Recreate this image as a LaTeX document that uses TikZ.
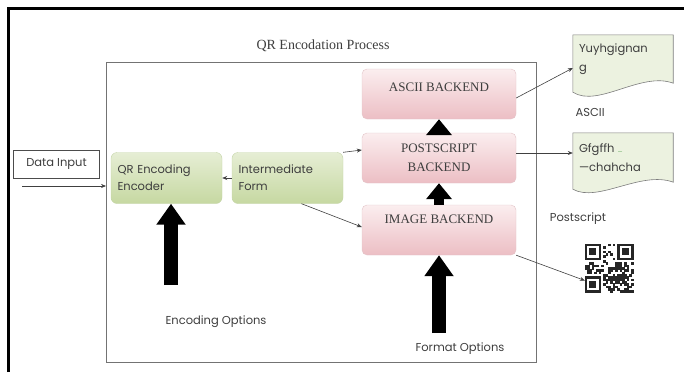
\documentclass[tikz,border=0pt]{standalone}
\usepackage{fontspec}
\setmainfont{Liberation Serif}
\newfontfamily\gothic{Poppins}
\usepackage{xcolor}
\usetikzlibrary{calc,arrows.meta,positioning,backgrounds}
\definecolor{backPink}{RGB}{236,190,196}
\definecolor{backPinkLight}{RGB}{251,238,239}
\definecolor{backEdge}{RGB}{226,196,200}
\definecolor{formGreen}{RGB}{198,216,162}
\definecolor{formGreenLight}{RGB}{230,238,212}
\definecolor{formEdge}{RGB}{196,212,168}
\definecolor{docFill}{RGB}{236,242,224}
\definecolor{docEdge}{RGB}{125,125,125}
\definecolor{frameGray}{RGB}{115,115,115}
\definecolor{txtGray}{RGB}{62,62,62}

\begin{document}
\begin{tikzpicture}[x=1pt,y=-1pt,
    backend/.style={rounded corners=5pt, draw=backEdge, top color=backPinkLight, bottom color=backPink,
        minimum width=154pt, minimum height=50pt, inner sep=2pt, font=\fontsize{13}{15}\selectfont, text=txtGray},
    formbox/.style={rounded corners=6pt, draw=formEdge, top color=formGreenLight, bottom color=formGreen,
        minimum width=111pt, minimum height=51pt, text width=98pt, align=left,
        font=\gothic\fontsize{11.5}{17}\selectfont, text=txtGray},
    doctext/.style={minimum width=100pt, text width=88pt, align=left, inner sep=0pt,
        font=\gothic\fontsize{11.5}{19}\selectfont, text=txtGray},
    docline/.style={draw=docEdge, fill=docFill, line width=0.6pt},
    caption/.style={font=\gothic\fontsize{11.5}{13}\selectfont, text=txtGray},
    thinarrow/.style={-{Stealth[length=5pt,width=4pt]}, draw=black!75, line width=0.6pt},
    fatarrow/.style={-{Triangle[length=21pt,width=28pt]}, line width=14pt, black},
    stubarrow/.style={-{Triangle[length=16pt,width=25pt]}, line width=10pt, black}]
    \useasboundingbox (0,0) rectangle (684,372);

    % outer frame, open to the right and below
    \draw[line width=3pt] (8.5,372) -- (8.5,8.5) -- (684,8.5);

    % title and process frame
    \node[font=\fontsize{14}{16}\selectfont, text=txtGray] (title) at (323,46) {QR Encodation Process};
    \node[draw=frameGray, line width=0.9pt, minimum width=430pt, minimum height=300pt, inner sep=0pt] (process) at (321.5,212) {};

    % input side
    \node[draw=black!70, line width=0.6pt, minimum width=86pt, minimum height=28pt,
        font=\gothic\fontsize{11.5}{13}\selectfont, text=txtGray] (datain) at (56.5,164) {Data Input};
    \coordinate (feed) at (22,186);
    \draw[thinarrow] (feed) -- (feed -| process.west);

    \node[formbox] (encoder) at (166.5,178) {QR Encoding\\Encoder};
    \node[formbox] (interform) at (287.5,178) {Intermediate\\Form};

    % backends
    \node[backend, text depth=14pt] (ascii) at (439,94) {ASCII BACKEND};
    \node[backend, align=center] (post) at (439,158) {POSTSCRIPT\\[4pt]BACKEND};
    \node[backend, text depth=22pt] (img) at (439,230) {IMAGE BACKEND};

    \draw[thinarrow] (interform.west) -- (encoder.east);
    \draw[thinarrow] (interform.north east) -- ([yshift=8pt]post.west);
    \draw[thinarrow] ([xshift=14pt]interform.south) -- ([yshift=3pt]img.west);

    \draw[stubarrow] (post.north) -- (ascii.south);
    \draw[stubarrow] (img.north) -- (post.south);

    % options
    \coordinate (encopt) at (171,285);
    \coordinate (fmtopt) at (439,333);
    \draw[fatarrow] (encopt) -- (encopt |- encoder.south);
    \draw[fatarrow] (fmtopt) -- (img.south);
    \node[caption] (enclabel) at (216,322) {Encoding Options};
    \node[caption] (fmtlabel) at (460,349) {Format Options};

    % outputs
    \node[doctext, minimum height=48pt] (asciidoc) at (623,59) {Yuyhgignan\\g};
    \node[doctext, minimum height=49pt] (psdoc) at (623,157.5) {Gfgffh {\color{green!45!black}\tiny ....}\\—chahcha};
    \begin{scope}[on background layer]
        \draw[docline] (asciidoc.north west) -- (asciidoc.north east) -- (asciidoc.south east)
            .. controls +(-32,-12) and +(25,16) .. ([yshift=-9pt]asciidoc.south west) -- cycle;
        \draw[docline] (psdoc.north west) -- (psdoc.north east) -- (psdoc.south east)
            .. controls +(-32,-12) and +(25,14) .. ([yshift=-7pt]psdoc.south west) -- cycle;
    \end{scope}
    \node[caption, anchor=west] (asciilabel) at (572,112) {ASCII};
    \node[caption] (pslabel) at (578,219) {Postscript};

    \draw[thinarrow] ([yshift=-4pt]ascii.east) -- ([yshift=-9pt]asciidoc.west);
    \draw[thinarrow] ([yshift=5pt]post.east) -- ([yshift=5pt]post.east -| psdoc.west);

    % qr code
    \node[minimum size=49pt, inner sep=0pt] (qrcode) at (609.5,268.5) {};
    \begin{scope}[shift={(qrcode.north west)}, black!85]
        \pgfmathsetseed{17}
        \foreach \i in {0,...,20} {
            \foreach \j in {0,...,20} {
                \pgfmathtruncatemacro\infinder{((\i<8)&&(\j<8))||((\i>12)&&(\j<8))||((\i<8)&&(\j>12))}
                \pgfmathtruncatemacro\bit{rnd<0.5}
                \ifnum\infinder=0
                    \ifnum\bit=1
                        \fill (\i*2.333,\j*2.333) rectangle +(2.4,2.4);
                    \fi
                \fi
            }
        }
        \foreach \cx/\cy in {0/0, 14/0, 0/14} {
            \fill (\cx*2.333,\cy*2.333) rectangle +(16.33,16.33);
            \fill[white] (\cx*2.333+2.333,\cy*2.333+2.333) rectangle +(11.67,11.67);
            \fill (\cx*2.333+4.667,\cy*2.333+4.667) rectangle +(7,7);
        }
    \end{scope}
    \draw[thinarrow] (img.south east) -- ([yshift=-12pt]qrcode.west);
\end{tikzpicture}
\end{document}
